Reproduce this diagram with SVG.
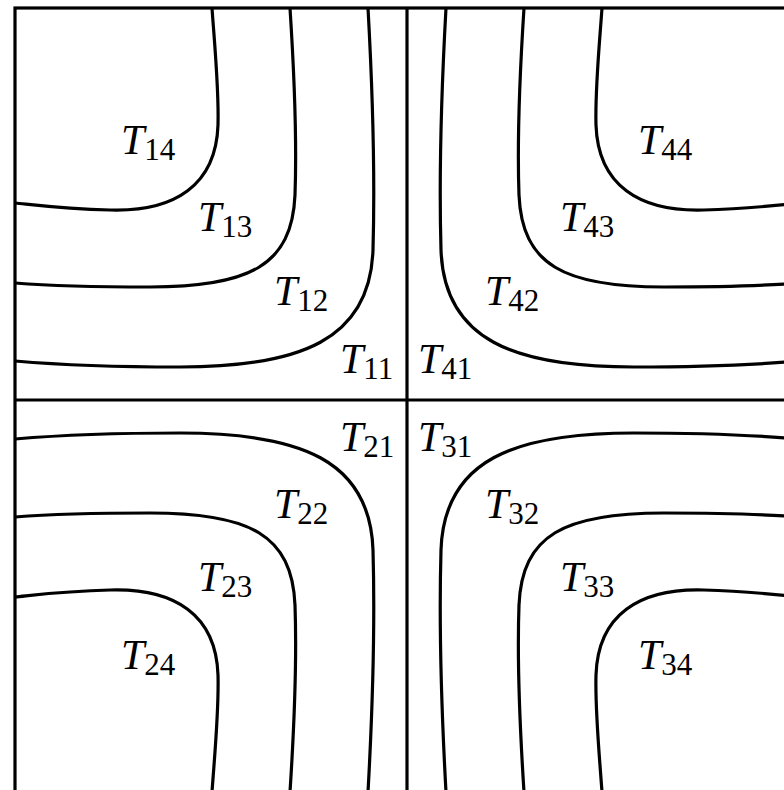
<svg xmlns="http://www.w3.org/2000/svg" xmlns:xlink="http://www.w3.org/1999/xlink" width="784" height="790" viewBox="0 0 784 790">
<style>
.ln{fill:none;stroke:#000;stroke-width:3.2}
.lb{font-family:"Liberation Serif","Times New Roman",serif;font-size:42px;fill:#000}
.t{font-style:italic}
.s{font-size:31px}
</style>
<defs>
<path id="c4" d="M212,8 C215,50 219,90 218,125 C216,185 175,212 110,210 C65,209 35,205 15,203"/>
<path id="c3" d="M290,8 C294,70 297,140 295,195 C292,265 250,287 150,287 C90,287 40,285 15,283"/>
<path id="c2" d="M368,8 C372,80 375,180 373,250 C370,340 300,367 180,367 C100,367 50,364 15,361"/>
</defs>
<rect width="784" height="790" fill="#fff"/>
<g id="frame" class="ln">
<rect x="15" y="8" width="784" height="784"/>
<line x1="407" y1="8" x2="407" y2="790"/>
<line x1="15" y1="400" x2="784" y2="400"/>
</g>
<g id="q1" class="ln">
<use xlink:href="#c4"/><use xlink:href="#c3"/><use xlink:href="#c2"/>
</g>
<g id="q4" class="ln" transform="matrix(-1 0 0 1 814 0)">
<use xlink:href="#c4"/><use xlink:href="#c3"/><use xlink:href="#c2"/>
</g>
<g id="q2" class="ln" transform="matrix(1 0 0 -1 0 800)">
<use xlink:href="#c4"/><use xlink:href="#c3"/><use xlink:href="#c2"/>
</g>
<g id="q3" class="ln" transform="matrix(-1 0 0 -1 814 800)">
<use xlink:href="#c4"/><use xlink:href="#c3"/><use xlink:href="#c2"/>
</g>
<g id="labels" class="lb">
<text x="121" y="154"><tspan class="t">T</tspan><tspan class="s" dy="6">14</tspan></text>
<text x="198" y="231"><tspan class="t">T</tspan><tspan class="s" dy="6">13</tspan></text>
<text x="274" y="305"><tspan class="t">T</tspan><tspan class="s" dy="6">12</tspan></text>
<text x="340" y="373"><tspan class="t">T</tspan><tspan class="s" dy="6">11</tspan></text>
<text x="638" y="154"><tspan class="t">T</tspan><tspan class="s" dy="6">44</tspan></text>
<text x="560" y="231"><tspan class="t">T</tspan><tspan class="s" dy="6">43</tspan></text>
<text x="485" y="305"><tspan class="t">T</tspan><tspan class="s" dy="6">42</tspan></text>
<text x="418" y="373"><tspan class="t">T</tspan><tspan class="s" dy="6">41</tspan></text>
<text x="340" y="451"><tspan class="t">T</tspan><tspan class="s" dy="6">21</tspan></text>
<text x="274" y="518"><tspan class="t">T</tspan><tspan class="s" dy="6">22</tspan></text>
<text x="198" y="591"><tspan class="t">T</tspan><tspan class="s" dy="6">23</tspan></text>
<text x="121" y="669"><tspan class="t">T</tspan><tspan class="s" dy="6">24</tspan></text>
<text x="418" y="451"><tspan class="t">T</tspan><tspan class="s" dy="6">31</tspan></text>
<text x="485" y="518"><tspan class="t">T</tspan><tspan class="s" dy="6">32</tspan></text>
<text x="560" y="591"><tspan class="t">T</tspan><tspan class="s" dy="6">33</tspan></text>
<text x="638" y="669"><tspan class="t">T</tspan><tspan class="s" dy="6">34</tspan></text>
</g>
</svg>
